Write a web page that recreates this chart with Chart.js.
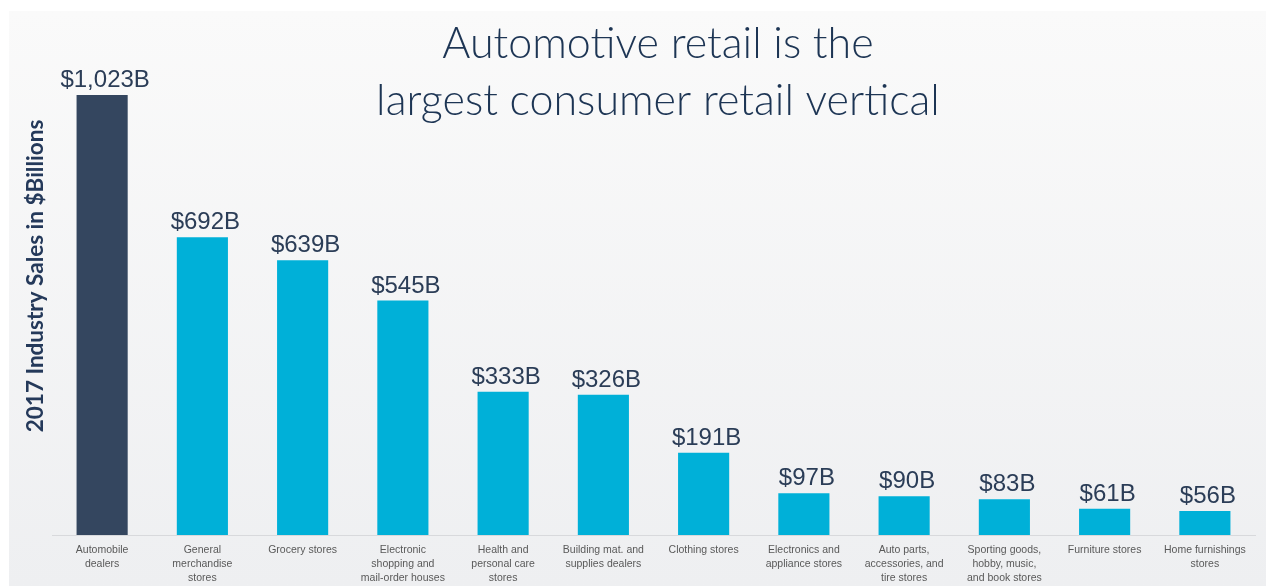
<!DOCTYPE html>
<html>
<head>
<meta charset="utf-8">
<script src="https://cdn.jsdelivr.net/npm/chart.js@4.4.1/dist/chart.umd.min.js"></script>
<style>
  html, body { margin: 0; padding: 0; background: #ffffff; }
  #wrap { width: 1266px; height: 586px; position: relative; }
</style>
</head>
<body>
<div id="wrap"><canvas id="chart" width="1266" height="586"></canvas></div>
<script>
// Retail verticals and 2017 sales in $ billions
const categories = [
  ['Automobile', 'dealers'],
  ['General', 'merchandise', 'stores'],
  ['Grocery stores'],
  ['Electronic', 'shopping and', 'mail-order houses'],
  ['Health and', 'personal care', 'stores'],
  ['Building mat. and', 'supplies dealers'],
  ['Clothing stores'],
  ['Electronics and', 'appliance stores'],
  ['Auto parts,', 'accessories, and', 'tire stores'],
  ['Sporting goods,', 'hobby, music,', 'and book stores'],
  ['Furniture stores'],
  ['Home furnishings', 'stores']
];
const salesBillions = [1023, 692, 639, 545, 333, 326, 191, 97, 90, 83, 61, 56];
const titleLines = ['Automotive retail is the', 'largest consumer retail vertical'];
const yAxisLabel = '2017 Industry Sales in $Billions';

const NAVY = '#34465f';
const CYAN = '#00b0d8';

const barColors = salesBillions.map((v, i) => i === 0 ? NAVY : CYAN);

// Slide-style background panel
const backgroundPanel = {
  id: 'backgroundPanel',
  beforeDraw(chart) {
    const { ctx, width, height } = chart;
    ctx.save();
    ctx.fillStyle = '#ffffff';
    ctx.fillRect(0, 0, width, height);
    const g = ctx.createLinearGradient(0, 11, 0, height);
    g.addColorStop(0, '#fafafa');
    g.addColorStop(1, '#eeeff1');
    ctx.fillStyle = g;
    ctx.fillRect(9, 11, width - 9, height - 11);
    ctx.restore();
  }
};

// Headline, vertical axis caption and value labels above each bar
const annotations = {
  id: 'annotations',
  afterDatasetsDraw(chart) {
    const { ctx } = chart;
    ctx.save();

    const meta = chart.getDatasetMeta(0);
    ctx.font = '24px "Liberation Sans", Arial, sans-serif';
    ctx.fillStyle = '#2b3d57';
    ctx.textAlign = 'center';
    ctx.textBaseline = 'alphabetic';
    meta.data.forEach((bar, i) => {
      const v = salesBillions[i];
      ctx.fillText('$' + v.toLocaleString('en-US') + 'B', bar.x + 3, bar.y - 8);
    });

    ctx.font = '300 43px Lato, "Open Sans", sans-serif';
    ctx.fillStyle = '#1d3554';
    ctx.textAlign = 'center';
    titleLines.forEach((line, i) => {
      ctx.fillText(line, 658, 58 + i * 57);
    });

    ctx.translate(36, 276);
    ctx.rotate(-Math.PI / 2);
    ctx.font = 'bold 22.5px Lato, "Open Sans", sans-serif';
    ctx.fillStyle = '#24395a';
    ctx.textAlign = 'center';
    ctx.textBaseline = 'middle';
    ctx.fillText(yAxisLabel, 0, 0);

    ctx.restore();
  }
};

new Chart(document.getElementById('chart'), {
  type: 'bar',
  data: {
    labels: categories,
    datasets: [{
      data: salesBillions,
      backgroundColor: barColors,
      borderWidth: 0,
      barPercentage: 0.51,
      categoryPercentage: 1.0
    }]
  },
  options: {
    responsive: false,
    animation: false,
    devicePixelRatio: 1,
    layout: { padding: { left: 52, right: 11, top: 95, bottom: 0 } },
    plugins: {
      legend: { display: false },
      tooltip: { enabled: false },
      title: { display: false }
    },
    scales: {
      x: {
        grid: { display: false, drawTicks: false },
        border: { display: true, color: '#d8d9dc', width: 1 },
        ticks: {
          autoSkip: false,
          maxRotation: 0,
          minRotation: 0,
          padding: 8,
          color: '#595959',
          font: { family: '"Liberation Sans", Arial, sans-serif', size: 10.5, lineHeight: 1.333 }
        },
        afterFit(scale) { scale.height = 51; }
      },
      y: {
        display: false,
        min: 0,
        max: 1023
      }
    }
  },
  plugins: [backgroundPanel, annotations]
});
</script>
</body>
</html>
